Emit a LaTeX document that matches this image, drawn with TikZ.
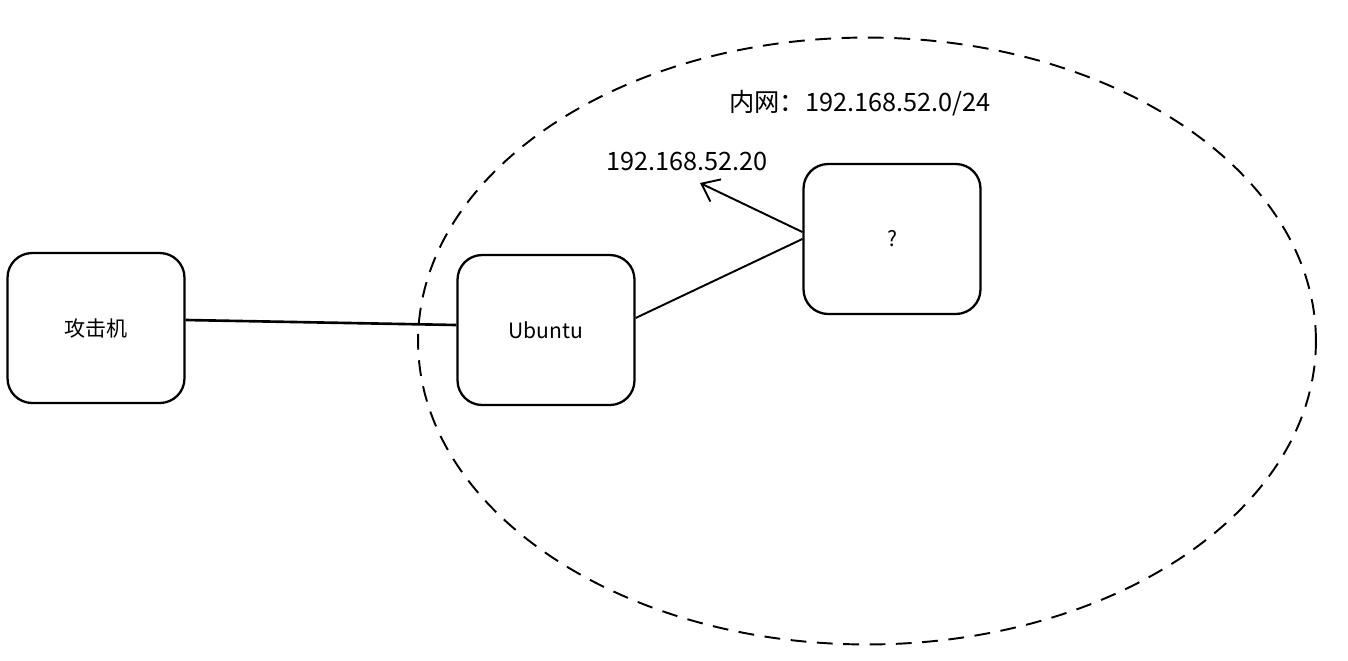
\documentclass[tikz,border=0pt]{standalone}
\usepackage{fontspec}
\setmainfont{Noto Sans CJK SC}
\usetikzlibrary{positioning, shapes.geometric, arrows.meta}

\begin{document}
\begin{tikzpicture}[x=0.02cm, y=-0.02cm]
      \tikzset{box/.style={draw, line width=1.3pt, rounded corners=14pt, minimum width=3.54cm, minimum height=3cm, font=\large}}
      \tikzset{lbl/.style={font=\Large}}
      \useasboundingbox (0,0) rectangle (1348,660);
      \node [ellipse, draw, line width=1.1pt, dash pattern=on 9pt off 6pt, minimum width=17.96cm, minimum height=12.14cm] (lan) at (867,341) {};
      \node [box] (attacker) at (96,328) {攻击机};
      \node [box] (ubuntu) at (546,330) {Ubuntu};
      \node [box] (unknown) at (892,239) {?};
      \node [lbl] (net) at (860,103) {内网：192.168.52.0/24};
      \node [lbl] (ip) at (687,161) {192.168.52.20};
      \draw [line width=1.5pt] (attacker.east) ++(0,-8) coordinate (a) -- (ubuntu.west |- 0,325);
      \draw [line width=1.1pt] (ubuntu.east) ++(0,-12) -- (unknown.west) ++(0,-7) coordinate (q);
      \draw [line width=1.1pt, -{Straight Barb[length=9pt, width=14pt]}] (q) -- (700,183);
    \end{tikzpicture}
\end{document}
